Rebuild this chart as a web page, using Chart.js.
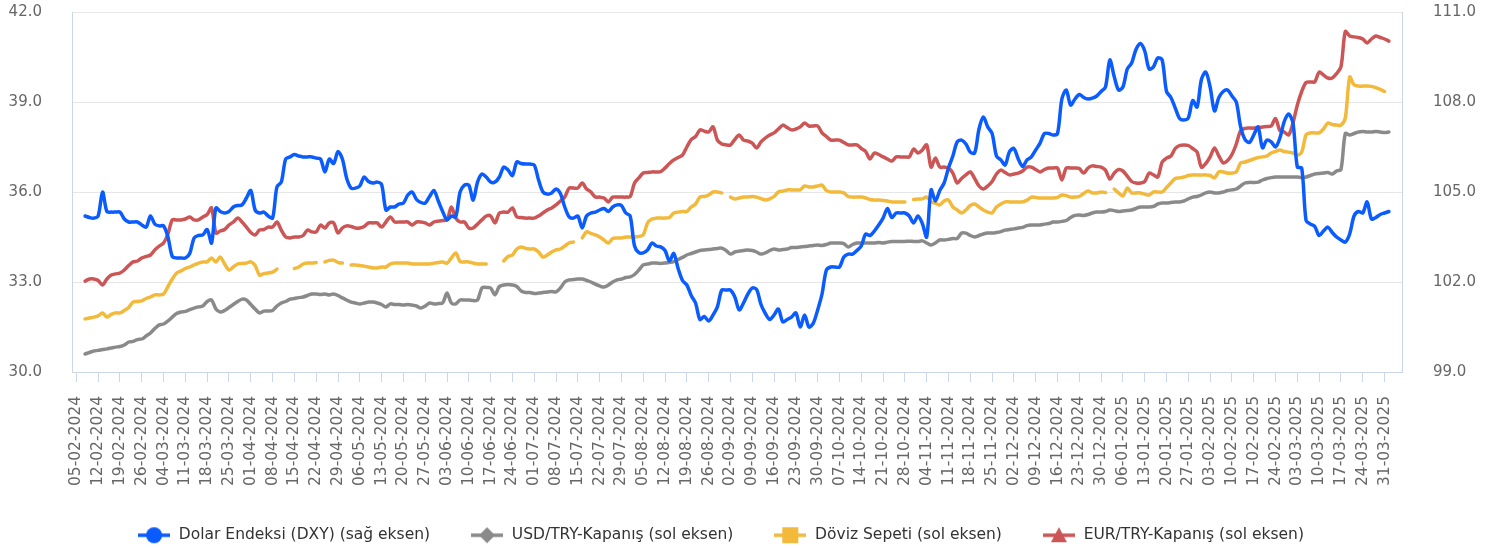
<!DOCTYPE html>
<html lang="tr">
<head>
<meta charset="UTF-8">
<title>Dolar Endeksi, USD/TRY, Döviz Sepeti, EUR/TRY</title>
<style>
  html, body { margin: 0; padding: 0; background: #ffffff; }
  #chart-container { width: 1497px; height: 548px; }
</style>
</head>
<body>
<div id="chart-container"><canvas id="fx-chart"></canvas></div>
<script src="https://cdn.jsdelivr.net/npm/chart.js@4"></script>
<script>
// one row per week (Mon..Fri), the leading null is Fri 02-02-2024
const dxy = [null,
  null, null, 104.2, 104.15, 104.13,
  104.2, 105.0, 104.35, 104.33, 104.33,
  104.33, 104.1, 104.0, 104.0, 104.0,
  103.9, 103.83, 104.2, 103.93, 103.87,
  103.87, 103.5, 102.85, 102.8, 102.8,
  102.8, 102.95, 103.47, 103.55, 103.57,
  103.75, 103.3, 104.47, 104.35, 104.3,
  104.35, 104.5, 104.55, 104.57, 104.8,
  105.05, 104.4, 104.3, 104.33, 104.2,
  104.13, 105.17, 105.33, 106.1, 106.17,
  106.25, 106.2, 106.17, 106.17, 106.17,
  106.13, 106.1, 105.67, 106.1, 105.95,
  106.35, 106.1, 105.45, 105.13, 105.13,
  105.2, 105.5, 105.35, 105.3, 105.33,
  105.25, 104.4, 104.5, 104.5, 104.6,
  104.63, 104.9, 105.0, 104.75, 104.65,
  104.63, 104.85, 105.05, 104.7, 104.35,
  104.07, 104.2, 104.17, 105.0, 105.23,
  105.23, 104.73, 105.33, 105.6, 105.5,
  105.33, 105.33, 105.5, 105.83, 105.73,
  105.55, 106.0, 105.95, 105.93, 105.93,
  105.9, 105.4, 105.0, 104.93, 104.97,
  105.1, 104.95, 104.5, 104.17, 104.13,
  104.2, 103.8, 104.2, 104.3, 104.33,
  104.4, 104.45, 104.35, 104.5, 104.57,
  104.55, 104.3, 104.2, 103.2, 102.98,
  102.97, 103.07, 103.3, 103.2, 103.17,
  103.05, 102.7, 102.95, 102.45, 102.05,
  101.9, 101.55, 101.3, 100.75, 100.85,
  100.7, 100.9, 101.17, 101.73, 101.73,
  101.73, 101.5, 101.07, 101.3, 101.6,
  101.8, 101.75, 101.25, 100.95, 100.75,
  100.9, 101.1, 100.67, 100.75, 100.83,
  100.97, 100.5, 100.9, 100.5, 100.63,
  101.07, 101.6, 102.4, 102.5, 102.5,
  102.5, 102.83, 102.93, 102.93, 103.05,
  103.2, 103.6, 103.55, 103.7, 103.9,
  104.13, 104.45, 104.15, 104.3, 104.3,
  104.3, 104.2, 103.97, 104.2, 103.95,
  103.5, 105.07, 104.7, 105.05, 105.3,
  105.8, 106.2, 106.67, 106.73, 106.6,
  106.33, 106.3, 107.1, 107.5, 107.17,
  106.95, 106.2, 106.07, 105.9, 106.35,
  106.45, 106.1, 105.85, 106.07, 106.17,
  106.4, 106.63, 106.95, 106.95, 106.9,
  106.95, 108.1, 108.4, 107.9, 108.1,
  108.25, 108.15, 108.1, 108.13, 108.2,
  108.35, 108.5, 109.4, 108.85, 108.4,
  108.5, 109.1, 109.3, 109.75, 109.95,
  109.7, 109.1, 109.17, 109.47, 109.4,
  108.35, 108.15, 107.8, 107.45, 107.4,
  107.47, 108.05, 107.83, 108.75, 109.0,
  108.5, 107.7, 108.15, 108.35, 108.4,
  108.2, 108.0, 107.17, 106.75, 106.65,
  106.9, 107.17, 106.47, 106.73, 106.67,
  106.5, 106.8, 107.35, 107.6, 107.3,
  105.83, 105.8, 104.05, 103.93, 103.85,
  103.55, 103.7, 103.83, 103.65, 103.5,
  103.4, 103.33, 103.6, 104.2, 104.35,
  104.3, 104.67, 104.1, 104.15, 104.25,
  104.3, 104.35, null, null, null
];

const usdTry = [null,
  null, null, 30.6, 30.65, 30.7,
  30.72, 30.75, 30.77, 30.8, 30.83,
  30.85, 30.9, 31.0, 31.02, 31.08,
  31.1, 31.2, 31.3, 31.45, 31.57,
  31.6, 31.7, 31.83, 31.95, 32.0,
  32.02, 32.08, 32.13, 32.17, 32.2,
  32.35, 32.4, 32.1, 32.0, 32.05,
  32.15, 32.25, 32.35, 32.43, 32.4,
  32.25, 32.1, 31.97, 32.03, 32.03,
  32.05, 32.2, 32.3, 32.35, 32.43,
  32.45, 32.48, 32.5, 32.55, 32.6,
  32.6, 32.58, 32.6, 32.57, 32.6,
  32.55, 32.47, 32.4, 32.33, 32.3,
  32.27, 32.3, 32.33, 32.33, 32.3,
  32.25, 32.17, 32.27, 32.25, 32.25,
  32.23, 32.25, 32.23, 32.2, 32.13,
  32.2, 32.3, 32.27, 32.28, 32.3,
  32.63, 32.3, 32.27, 32.4, 32.4,
  32.4, 32.38, 32.4, 32.8, 32.82,
  32.8, 32.57, 32.85, 32.9, 32.92,
  32.9, 32.85, 32.7, 32.65, 32.65,
  32.62, 32.63, 32.65, 32.67, 32.68,
  32.67, 32.8, 33.0, 33.07, 33.08,
  33.1, 33.1, 33.05, 33.0, 32.93,
  32.87, 32.83, 32.9, 33.0, 33.07,
  33.1, 33.15, 33.17, 33.25, 33.4,
  33.57, 33.6, 33.63, 33.63, 33.62,
  33.63, 33.65, 33.68, 33.75, 33.82,
  33.9, 33.95, 34.0, 34.05, 34.07,
  34.08, 34.1, 34.12, 34.13, 34.05,
  33.93, 34.0, 34.03, 34.05, 34.07,
  34.05, 34.0, 33.93, 33.97, 34.05,
  34.1, 34.07, 34.08, 34.1, 34.15,
  34.15, 34.17, 34.18, 34.2, 34.22,
  34.23, 34.22, 34.25, 34.3, 34.3,
  34.3, 34.28, 34.17, 34.25, 34.3,
  34.3, 34.3, 34.3, 34.3, 34.32,
  34.3, 34.33, 34.35, 34.35, 34.35,
  34.35, 34.36, 34.35, 34.35, 34.37,
  34.3, 34.23, 34.3, 34.4, 34.4,
  34.42, 34.45, 34.45, 34.63, 34.63,
  34.55, 34.5, 34.55, 34.6, 34.63,
  34.63, 34.65, 34.68, 34.73, 34.75,
  34.77, 34.8, 34.82, 34.88, 34.9,
  34.9, 34.9, 34.93, 34.95, 35.0,
  35.0, 35.02, 35.05, 35.15, 35.22,
  35.23, 35.22, 35.25, 35.3, 35.33,
  35.33, 35.35, 35.4, 35.38, 35.35,
  35.37, 35.38, 35.4, 35.45, 35.5,
  35.5, 35.5, 35.52, 35.6, 35.63,
  35.63, 35.65, 35.67, 35.67, 35.7,
  35.77, 35.83, 35.85, 35.9, 35.97,
  36.0, 35.97, 35.97, 36.0, 36.05,
  36.07, 36.1, 36.2, 36.3, 36.32,
  36.32, 36.33, 36.4, 36.45, 36.48,
  36.5, 36.5, 36.5, 36.5, 36.5,
  36.5, 36.48, 36.5, 36.55, 36.6,
  36.62, 36.63, 36.65, 36.6, 36.7,
  36.75, 37.95, 37.9, 37.95, 38.0,
  38.02, 38.0, 38.0, 38.02, 38.0,
  37.98, 38.0, null, null, null
];

// nulls are the market holidays where the basket has no value
const dovizSepeti = [null,
  null, null, 31.77, 31.8, 31.83,
  31.87, 31.97, 31.83, 31.92, 31.97,
  31.97, 32.05, 32.15, 32.33, 32.35,
  32.37, 32.45, 32.5, 32.57, 32.57,
  32.6, 32.85, 33.1, 33.3, 33.37,
  33.45, 33.5, 33.57, 33.63, 33.67,
  33.67, 33.8, 33.67, 33.83, 33.6,
  33.4, 33.5, 33.6, 33.62, 33.63,
  33.67, 33.55, 33.23, 33.28, 33.3,
  33.33, 33.43, null, null, null,
  33.45, 33.5, 33.6, 33.63, 33.63,
  33.65, null, 33.67, 33.72, 33.73,
  33.65, 33.63, null, 33.57, 33.57,
  33.55, 33.53, 33.5, 33.47, 33.47,
  33.5, 33.5, 33.6, 33.63, 33.63,
  33.63, 33.63, 33.6, 33.6, 33.6,
  33.6, 33.6, 33.63, 33.65, 33.67,
  33.63, 33.8, 33.97, 33.68, 33.67,
  33.67, 33.63, 33.6, 33.6, 33.6,
  null, null, null, 33.7, 33.85,
  33.9, 34.1, 34.17, 34.12, 34.1,
  34.1, 34.0, 33.83, 33.9, 34.0,
  34.07, 34.1, 34.2, 34.3, 34.33,
  null, 34.47, 34.67, 34.62, 34.57,
  34.5, 34.4, 34.3, 34.45, 34.47,
  34.47, 34.5, 34.5, 34.5, 34.52,
  34.57, 34.97, 35.1, 35.13, 35.13,
  35.13, 35.15, 35.3, 35.33, 35.35,
  35.35, 35.5, 35.6, 35.83, 35.85,
  35.9, 36.0, 36.0, 35.97, null,
  35.83, 35.77, 35.8, 35.83, 35.83,
  35.85, 35.83, 35.78, 35.73, 35.77,
  35.85, 36.0, 36.03, 36.07, 36.07,
  36.07, 36.07, 36.2, 36.17, 36.17,
  36.2, 36.23, 36.05, 36.0, 36.0,
  36.0, 35.97, 35.85, 35.83, 35.83,
  35.83, 35.8, 35.75, 35.73, 35.73,
  35.72, 35.7, 35.67, 35.67, 35.67,
  35.67, null, 35.75, 35.77, 35.77,
  35.83, 35.67, 35.63, 35.57, 35.7,
  35.73, 35.5, 35.4, 35.3, 35.4,
  35.55, 35.6, 35.5, 35.4, 35.33,
  35.3, 35.5, 35.6, 35.67, 35.67,
  35.67, 35.67, 35.67, 35.73, 35.83,
  35.82, 35.8, 35.8, 35.8, 35.8,
  35.82, 35.9, 35.88, 35.83, 35.83,
  35.85, 35.95, 36.03, 35.97, 35.97,
  36.0, 35.98, null, 36.1, 35.97,
  35.87, 36.13, 35.97, 35.97, 35.97,
  35.93, 35.9, 36.0, 36.0, 36.0,
  36.15, 36.3, 36.45, 36.47, 36.5,
  36.55, 36.57, 36.57, 36.57, 36.57,
  36.55, 36.47, 36.67, 36.67, 36.63,
  36.63, 36.67, 36.97, 37.0, 37.05,
  37.1, 37.15, 37.17, 37.2, 37.3,
  37.35, 37.4, 37.35, 37.33, 37.3,
  37.23, 37.33, 37.9, 37.97, 37.97,
  37.97, 38.1, 38.3, 38.25, 38.23,
  38.23, 38.47, 39.83, 39.57, 39.53,
  39.53, 39.53, 39.52, 39.48, 39.42,
  39.35, null, null, null, null
];

const eurTry = [null,
  null, null, 33.03, 33.1, 33.1,
  33.05, 32.9, 33.1, 33.23, 33.27,
  33.3, 33.4, 33.55, 33.67, 33.7,
  33.8, 33.85, 33.9, 34.07, 34.2,
  34.3, 34.6, 35.07, 35.07, 35.07,
  35.1, 35.17, 35.07, 35.07, 35.17,
  35.25, 35.47, 34.63, 34.7, 34.75,
  34.9, 35.0, 35.13, 35.0, 34.83,
  34.65, 34.57, 34.73, 34.75, 34.83,
  34.83, 35.0, 34.73, 34.5, 34.47,
  34.5, 34.5, 34.55, 34.73, 34.67,
  34.67, 34.9, 34.8, 34.97, 34.97,
  34.63, 34.8, 34.87, 34.85, 34.8,
  34.8, 34.85, 34.97, 34.97, 34.97,
  34.83, 35.0, 35.17, 35.0, 35.0,
  35.0, 35.0, 34.9, 35.0, 35.0,
  34.97, 34.9, 35.0, 35.03, 35.05,
  35.07, 35.5, 35.13, 35.0, 35.0,
  34.8, 34.8, 34.93, 35.07, 35.2,
  35.2, 34.97, 35.3, 35.33, 35.33,
  35.47, 35.17, 35.15, 35.13, 35.13,
  35.13, 35.2, 35.3, 35.4, 35.47,
  35.57, 35.7, 35.83, 36.13, 36.13,
  36.13, 36.3, 36.1, 36.0, 35.83,
  35.83, 35.8, 35.67, 35.83, 35.83,
  35.83, 35.83, 35.85, 36.3, 36.47,
  36.63, 36.65, 36.67, 36.67, 36.68,
  36.8, 36.95, 37.07, 37.15, 37.23,
  37.5, 37.75, 37.85, 38.07, 38.03,
  38.0, 38.17, 37.73, 37.6, 37.57,
  37.57, 37.75, 37.9, 37.73, 37.7,
  37.63, 37.47, 37.67, 37.8, 37.9,
  37.97, 38.1, 38.23, 38.15, 38.07,
  38.1, 38.17, 38.3, 38.2, 38.2,
  38.2, 37.97, 37.85, 37.73, 37.73,
  37.73, 37.65, 37.57, 37.57, 37.57,
  37.45, 37.35, 37.1, 37.3, 37.25,
  37.17, 37.1, 37.03, 37.17, 37.17,
  37.17, 37.17, 37.43, 37.3, 37.4,
  37.57, 36.83, 37.13, 36.83, 36.83,
  36.8, 36.63, 36.3, 36.45, 36.57,
  36.67, 36.45, 36.2, 36.1, 36.2,
  36.35, 36.6, 36.73, 36.65, 36.57,
  36.6, 36.63, 36.7, 36.83, 36.83,
  36.75, 36.67, 36.75, 36.8, 36.8,
  36.8, 36.4, 36.8, 36.8, 36.8,
  36.78, 36.63, 36.8, 36.87, 36.85,
  36.83, 36.73, 36.43, 36.63, 36.75,
  36.7, 36.53, 36.35, 36.3, 36.3,
  36.35, 36.63, 36.57, 36.5, 37.0,
  37.13, 37.2, 37.45, 37.55, 37.57,
  37.55, 37.45, 37.33, 36.83, 36.95,
  37.17, 37.47, 37.2, 36.97, 37.05,
  37.25, 37.6, 38.05, 38.12, 38.13,
  38.13, 38.15, 38.17, 38.18, 38.2,
  38.45, 38.05, 38.0, 37.9, 38.3,
  38.9, 39.35, 39.65, 39.67, 39.67,
  40.0, 39.9, 39.8, 39.8, 39.95,
  40.17, 41.35, 41.2, 41.17, 41.15,
  41.1, 40.97, 41.1, 41.2, 41.15,
  41.1, 41.03, null, null, null
];

const leftTicks = { min: 30, max: 42, step: 3 };
const rightTicks = { min: 99, max: 111, step: 3 };

// business-day categories, 02-02-2024 .. 04-04-2025; a label every Monday
const labels = [];
const pad = n => String(n).padStart(2, '0');
for (let t = Date.UTC(2024, 1, 2); labels.length < dxy.length; t += 86400000) {
  const d = new Date(t);
  const wd = d.getUTCDay();
  if (wd === 0 || wd === 6) continue;
  labels.push(pad(d.getUTCDate()) + '-' + pad(d.getUTCMonth() + 1) + '-' + d.getUTCFullYear());
}
const isMonday = i => i % 5 === 1;

const colors = { dxy: '#0a5cff', usd: '#8a8a8a', doviz: '#f2b93b', eur: '#cc5555' };

// legend symbol: a short line with the marker on it
function legendIcon(color, shape) {
  const c = document.createElement('canvas');
  c.width = 32; c.height = 18;
  const g = c.getContext('2d');
  g.strokeStyle = color; g.fillStyle = color; g.lineWidth = 3.5;
  g.beginPath(); g.moveTo(0, 9); g.lineTo(32, 9); g.stroke();
  g.beginPath();
  if (shape === 'circle') g.arc(16, 9, 8, 0, Math.PI * 2);
  else if (shape === 'diamond') { g.moveTo(16, 1); g.lineTo(24, 9); g.lineTo(16, 17); g.lineTo(8, 9); }
  else if (shape === 'square') g.rect(8, 1, 16, 16);
  else { g.moveTo(16, 1); g.lineTo(24, 16); g.lineTo(8, 16); }
  g.closePath(); g.fill();
  return c;
}
const icons = [
  legendIcon(colors.dxy, 'circle'),
  legendIcon(colors.usd, 'diamond'),
  legendIcon(colors.doviz, 'square'),
  legendIcon(colors.eur, 'triangle')
];

Chart.defaults.font.family = '"DejaVu Sans", sans-serif';
Chart.defaults.color = '#666666';

function lineSet(label, data, color, axis) {
  return {
    label: label, data: data, yAxisID: axis,
    borderColor: color, backgroundColor: color,
    borderWidth: 3.5, pointRadius: 0, pointHoverRadius: 0,
    tension: 0.3, borderCapStyle: 'round', borderJoinStyle: 'round',
    spanGaps: false
  };
}

// y axes: fixed widths, and no extra top/bottom room from the tick padding
function fixWidth(w) {
  return s => { s.width = w; s.paddingTop = 10; s.paddingBottom = 10; };
}

// the legend row sits a little left of the canvas centre
const legendOffset = {
  id: 'legendOffset',
  afterLayout(chart) {
    chart.legend.left -= 28;
    chart.legend.right -= 28;
  }
};

new Chart(document.getElementById('fx-chart'), {
  type: 'line',
  data: {
    labels: labels,
    datasets: [
      lineSet('Dolar Endeksi (DXY) (sağ eksen)', dxy, colors.dxy, 'y1'),
      lineSet('USD/TRY-Kapanış (sol eksen)', usdTry, colors.usd, 'y'),
      lineSet('Döviz Sepeti (sol eksen)', dovizSepeti, colors.doviz, 'y'),
      lineSet('EUR/TRY-Kapanış (sol eksen)', eurTry, colors.eur, 'y')
    ]
  },
  plugins: [legendOffset],
  options: {
    responsive: true,
    maintainAspectRatio: false,
    animation: false,
    layout: { padding: { top: 12, left: 0, right: 0, bottom: -5 } },
    plugins: {
      tooltip: { enabled: false },
      legend: {
        position: 'bottom',
        labels: {
          usePointStyle: true,
          pointStyleWidth: 34,
          padding: 40,
          color: '#333333',
          font: { size: 15.5 },
          generateLabels: chart => Chart.defaults.plugins.legend.labels.generateLabels(chart)
            .map((item, i) => Object.assign(item, { pointStyle: icons[i] }))
        }
      }
    },
    scales: {
      x: {
        afterFit: s => { s.height = 115.5; },
        border: { color: '#ccd6eb' },
        grid: {
          drawOnChartArea: false,
          tickLength: 10,
          color: c => isMonday(c.index) ? '#ccd6eb' : 'rgba(0,0,0,0)'
        },
        ticks: {
          autoSkip: false,
          minRotation: 90,
          maxRotation: 90,
          padding: 14,
          font: { size: 15.5 },
          callback: function (v, i) { return isMonday(i) ? this.getLabelForValue(v) : ''; }
        }
      },
      y: {
        position: 'left',
        min: leftTicks.min, max: leftTicks.max,
        afterFit: fixWidth(72),
        border: { color: '#ccd6eb' },
        grid: { color: '#e6e6e6', drawTicks: false },
        ticks: { stepSize: leftTicks.step, padding: 30, font: { size: 15 }, callback: v => v.toFixed(1) }
      },
      y1: {
        position: 'right',
        min: rightTicks.min, max: rightTicks.max,
        afterFit: fixWidth(95),
        border: { color: '#ccd6eb' },
        grid: { drawOnChartArea: false, drawTicks: false },
        ticks: { stepSize: rightTicks.step, padding: 31, font: { size: 15 }, callback: v => v.toFixed(1) }
      }
    }
  }
});
</script>
</body>
</html>
